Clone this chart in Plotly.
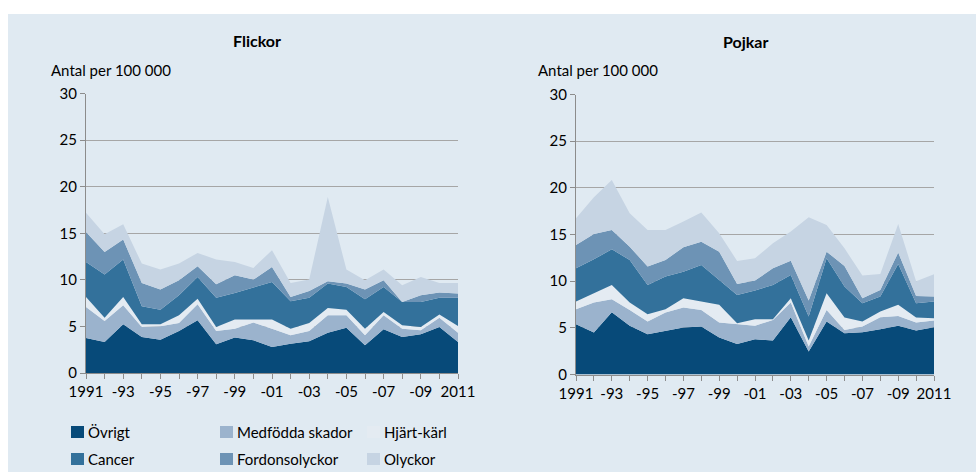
import plotly.graph_objects as go

years = list(range(1991, 2012))
categories = ["Övrigt", "Medfödda skador", "Hjärt-kärl", "Cancer", "Fordonsolyckor", "Olyckor"]
colors = ["#074a79", "#9bb3cd", "#e4ebf2", "#33719b", "#6d93b5", "#c6d4e3"]

# Flickor (girls), per 100 000
f_ovrigt = [3.76, 3.33, 5.23, 3.87, 3.58, 4.51, 5.66, 3.08, 3.80, 3.51, 2.79, 3.15, 3.40, 4.33, 4.87, 2.97, 4.69, 3.87, 4.15, 4.94, 3.33]
f_medfodda = [3.33, 2.26, 2.04, 1.07, 1.43, 0.86, 1.72, 1.43, 0.96, 1.90, 1.97, 0.90, 1.11, 1.86, 1.32, 1.08, 1.50, 0.89, 0.43, 1.00, 1.00]
f_hjart = [1.07, 0.35, 0.89, 0.29, 0.22, 0.82, 0.60, 0.43, 0.97, 0.32, 0.97, 0.71, 0.86, 0.79, 0.61, 0.71, 0.36, 0.36, 0.36, 0.33, 0.72]
f_cancer = [3.76, 4.62, 4.01, 1.93, 1.57, 2.15, 2.33, 3.15, 2.86, 3.44, 4.04, 2.94, 2.72, 2.62, 2.44, 3.15, 2.69, 2.51, 2.69, 1.82, 3.04]
f_fordon = [3.22, 2.44, 2.15, 2.51, 2.15, 1.61, 1.15, 1.43, 1.90, 0.86, 1.62, 0.46, 0.72, 0.25, 0.36, 1.04, 0.71, 0.00, 0.71, 0.54, 0.43]
f_olyckor = [2.05, 1.89, 1.65, 2.07, 2.15, 1.79, 1.43, 2.65, 1.43, 1.25, 1.79, 1.51, 1.22, 9.05, 1.50, 1.00, 1.15, 1.79, 1.97, 1.04, 1.15]

# Pojkar (boys), per 100 000
p_ovrigt = [5.39, 4.50, 6.67, 5.21, 4.32, 4.71, 5.03, 5.14, 3.96, 3.28, 3.78, 3.64, 6.14, 2.46, 5.67, 4.42, 4.53, 4.85, 5.21, 4.71, 5.07]
p_medfodda = [1.60, 3.21, 1.39, 1.71, 1.35, 1.93, 2.14, 1.78, 1.61, 2.11, 1.43, 2.21, 1.57, 0.54, 1.25, 0.36, 0.61, 1.29, 1.07, 0.86, 0.71]
p_hjart = [0.82, 0.99, 1.54, 0.79, 0.79, 0.35, 1.00, 0.89, 1.89, 0.10, 0.71, 0.07, 0.46, 0.64, 1.78, 1.32, 0.53, 0.60, 1.18, 0.53, 0.25]
p_cancer = [3.57, 3.64, 3.81, 4.56, 3.14, 3.50, 2.85, 3.93, 2.67, 3.04, 3.07, 3.68, 2.50, 2.57, 3.75, 3.32, 1.96, 1.61, 4.38, 1.53, 1.78]
p_fordon = [2.50, 2.72, 2.07, 1.43, 1.96, 1.78, 2.61, 2.49, 3.03, 1.17, 1.07, 1.78, 1.53, 1.71, 0.71, 2.21, 0.54, 0.71, 1.22, 0.79, 0.54]
p_olyckor = [2.85, 3.92, 5.35, 3.57, 3.92, 3.21, 2.75, 3.14, 1.97, 2.47, 2.39, 2.68, 3.11, 8.92, 2.86, 1.89, 2.43, 1.71, 3.07, 1.57, 2.39]

tick_years = list(range(1991, 2012, 2))
tick_labels = ["1991", "-93", "-95", "-97", "-99", "-01", "-03", "-05", "-07", "-09", "2011"]

FONT = "Lato"
TXT = "#000000"
BG = "#e0eaf2"

flickor = [f_ovrigt, f_medfodda, f_hjart, f_cancer, f_fordon, f_olyckor]
pojkar = [p_ovrigt, p_medfodda, p_hjart, p_cancer, p_fordon, p_olyckor]

fig = go.Figure()
for xa, ya, series, grp in [("x", "y", flickor, "f"), ("x2", "y2", pojkar, "p")]:
    for name, vals, col in zip(categories, series, colors):
        fig.add_trace(go.Scatter(
            x=years, y=vals, name=name, mode="lines",
            line=dict(width=0, color=col), fillcolor=col,
            stackgroup=grp, xaxis=xa, yaxis=ya, showlegend=False,
            hoverinfo="x+y+name",
        ))

xaxis_common = dict(
    range=[1991, 2011], tickmode="array", tickvals=tick_years, ticktext=tick_labels,
    ticks="outside", ticklen=5, tickcolor="#8c8c8c", showline=True, linecolor="#8c8c8c",
    linewidth=1, showgrid=False, zeroline=False, automargin=False,
    minor=dict(dtick=1, tick0=1991, ticks="outside", ticklen=5, tickcolor="#8c8c8c", showgrid=False),
    tickfont=dict(family=FONT, size=15, color=TXT), fixedrange=True,
)
yaxis_common = dict(
    range=[0, 30], tickmode="array", tickvals=[0, 5, 10, 15, 20, 25, 30],
    ticks="outside", ticklen=5, tickcolor="#8c8c8c", showline=True, linecolor="#8c8c8c",
    linewidth=1, showgrid=True, gridcolor="#a6a6a6", gridwidth=1, zeroline=False, automargin=False,
    tickfont=dict(family=FONT, size=15, color=TXT), fixedrange=True,
)

fig.update_layout(
    width=976, height=472,
    margin=dict(l=0, r=0, t=0, b=0, pad=0, autoexpand=False),
    paper_bgcolor="white", plot_bgcolor="white",
    font=dict(family=FONT, size=15, color=TXT),
    showlegend=False,
    xaxis=dict(domain=[86 / 976, 458 / 976], anchor="y", **xaxis_common),
    yaxis=dict(domain=[(472 - 373) / 472, (472 - 93.5) / 472], anchor="x", **yaxis_common),
    xaxis2=dict(domain=[576 / 976, 934 / 976], anchor="y2", **xaxis_common),
    yaxis2=dict(domain=[(472 - 374.5) / 472, (472 - 94.5) / 472], anchor="x2", **yaxis_common),
)

# background panel
fig.add_shape(type="rect", xref="paper", yref="paper", x0=8 / 976, x1=1, y0=0, y1=(472 - 14) / 472,
              fillcolor=BG, line=dict(width=0), layer="below")

# titles
fig.add_annotation(text="<b>Flickor</b>", x=257 / 976, y=1 - 40 / 472, xref="paper", yref="paper",
                   showarrow=False, font=dict(family=FONT, size=16, color=TXT), xanchor="center", yanchor="middle")
fig.add_annotation(text="<b>Pojkar</b>", x=745 / 976, y=1 - 42 / 472, xref="paper", yref="paper",
                   showarrow=False, font=dict(family=FONT, size=16, color=TXT), xanchor="center", yanchor="middle")
fig.add_annotation(text="Antal per 100 000", x=49 / 976, y=1 - 70 / 472, xref="paper", yref="paper",
                   showarrow=False, font=dict(family=FONT, size=15, color=TXT), xanchor="left", yanchor="middle")
fig.add_annotation(text="Antal per 100 000", x=536 / 976, y=1 - 70 / 472, xref="paper", yref="paper",
                   showarrow=False, font=dict(family=FONT, size=15, color=TXT), xanchor="left", yanchor="middle")

# manual legend (2 rows x 3 columns)
leg_x = [71, 220, 367]
leg_y = [432, 459]
for i, (name, col) in enumerate(zip(categories, colors)):
    r, c = divmod(i, 3)
    x0 = leg_x[c]
    yc = leg_y[r]
    fig.add_shape(type="rect", xref="paper", yref="paper",
                  x0=x0 / 976, x1=(x0 + 13) / 976, y0=1 - (yc + 6) / 472, y1=1 - (yc - 6) / 472,
                  fillcolor=col, line=dict(width=0))
    fig.add_annotation(text=name, x=(x0 + 15) / 976, y=1 - yc / 472, xref="paper", yref="paper",
                       showarrow=False, font=dict(family=FONT, size=15, color=TXT),
                       xanchor="left", yanchor="middle")

post = (
    "var s=document.createElement('style');"
    "s.textContent='html,body{margin:0!important;padding:0!important;overflow:hidden!important;}';"
    "document.head.appendChild(s);"
)

fig.write_html(
    "out.html",
    config={"displayModeBar": False},
    post_script=post,
)
